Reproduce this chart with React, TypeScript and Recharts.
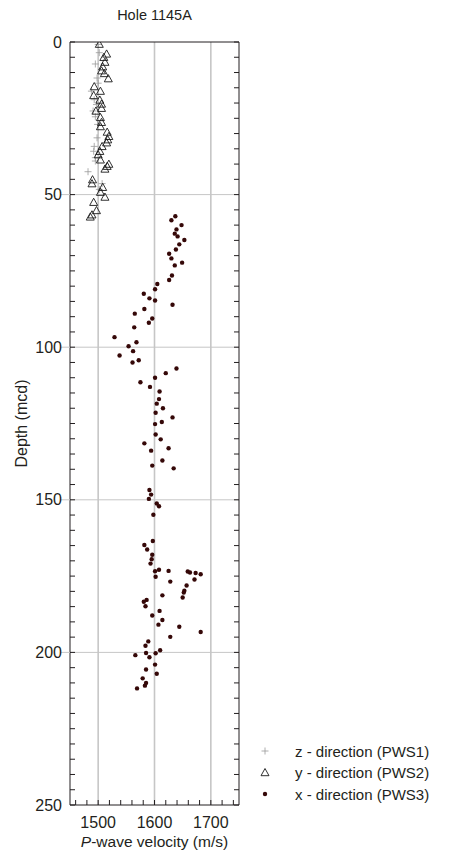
import { Legend, ReferenceLine, Scatter, ScatterChart, XAxis, YAxis } from 'recharts';

// z - direction (PWS1)
const pws1Depth = [0.8, 3.5, 7.2, 11.8, 13.5, 16.1, 18.9, 20.5, 22.6, 24.5, 27.0, 31.4, 34.2, 35.8, 37.9, 39.0, 42.5, 46.4, 48.3];
const pws1Velocity = [1500, 1502, 1495, 1498, 1500, 1488, 1493, 1497, 1491, 1495, 1499, 1498, 1493, 1492, 1495, 1495, 1482, 1507, 1502];

// y - direction (PWS2)
const pws2Depth = [
    0.7, 3.9, 5.0, 6.6, 8.1, 9.4, 10.3, 12.0, 14.6, 16.1, 17.5, 19.0, 20.3, 21.7, 22.6, 24.7, 26.3, 27.7, 29.5, 30.9,
    32.0, 33.0, 34.2, 35.8, 36.9, 38.6, 40.0, 40.7, 41.6, 45.1, 46.4, 47.6, 49.2, 50.8, 52.5, 55.2, 56.6, 57.3,
];
const pws2Velocity = [
    1502, 1515, 1510, 1512, 1508, 1506, 1511, 1518, 1493, 1504, 1492, 1503, 1506, 1506, 1496, 1504, 1506, 1504, 1516, 1519,
    1517, 1515, 1507, 1503, 1500, 1504, 1519, 1516, 1512, 1490, 1489, 1508, 1504, 1512, 1492, 1497, 1489, 1486,
];

// x - direction (PWS3)
const pws3Depth = [
    57.1, 58.4, 60.0, 61.4, 62.8, 63.7, 64.9, 66.3, 68.0, 69.4, 70.9, 72.3, 73.2, 76.5, 78.0, 79.3, 81.0, 82.5, 84.0, 84.7,
    86.1, 87.5, 89.0, 90.6, 92.0, 93.5, 96.7, 98.4, 99.7, 101.3, 102.7, 104.3, 105.0, 107.0, 108.5, 110.0, 111.5, 113.0,
    114.5, 117.0, 118.5, 120.0, 121.5, 123.0, 124.5, 125.2, 128.6, 130.2, 131.5, 133.1, 133.9, 137.1, 138.8, 139.7, 146.8,
    148.3, 149.7, 151.2, 152.1, 154.9, 163.5, 164.8, 166.3, 168.0, 169.5, 170.9, 172.9, 173.3, 173.4, 173.5, 173.8, 174.0,
    174.4, 175.2, 176.1, 176.8, 178.1, 179.8, 180.4, 181.3, 182.0, 182.8, 183.4, 184.9, 186.4, 187.9, 189.4, 190.9, 191.6,
    193.3, 194.9, 196.4, 197.8, 199.3, 200.2, 200.3, 200.9, 201.6, 204.0, 205.6, 207.0, 208.5, 210.0, 210.9, 211.8,
];
const pws3Velocity = [
    1637, 1630, 1648, 1639, 1636, 1641, 1653, 1644, 1638, 1626, 1630, 1649, 1636, 1631, 1626, 1605, 1601, 1581, 1591, 1601,
    1632, 1582, 1565, 1596, 1590, 1564, 1529, 1568, 1554, 1562, 1538, 1572, 1561, 1639, 1620, 1601, 1575, 1592,
    1609, 1608, 1604, 1615, 1602, 1632, 1613, 1601, 1602, 1611, 1582, 1625, 1594, 1614, 1596, 1634, 1591,
    1594, 1590, 1604, 1608, 1598, 1597, 1582, 1587, 1596, 1595, 1593, 1608, 1625, 1601, 1659, 1663, 1673,
    1682, 1602, 1671, 1628, 1657, 1653, 1652, 1614, 1650, 1586, 1581, 1584, 1609, 1596, 1614, 1607, 1644,
    1682, 1628, 1589, 1584, 1610, 1585, 1602, 1566, 1591, 1601, 1585, 1604, 1579, 1585, 1583, 1569,
];

const velocityTicks = [1460, 1480, 1500, 1520, 1540, 1560, 1580, 1600, 1620, 1640, 1660, 1680, 1700, 1720, 1740];
const velocityLabels = [1500, 1600, 1700];
const depthTicks = [
    0, 5, 10, 15, 20, 25, 30, 35, 40, 45, 50, 55, 60, 65, 70, 75, 80, 85, 90, 95, 100, 105, 110, 115, 120, 125, 130, 135,
    140, 145, 150, 155, 160, 165, 170, 175, 180, 185, 190, 195, 200, 205, 210, 215, 220, 225, 230, 235, 240, 245, 250,
];
const depthLabels = [0, 50, 100, 150, 200, 250];
const depthGrid = [50, 100, 150, 200];

const legendItems = ['z - direction (PWS1)', 'y - direction (PWS2)', 'x - direction (PWS3)'];

const toPoints = (depth: number[], velocity: number[]) => depth.map((d, i) => ({ velocity: velocity[i], depth: d }));

const FONT = '"Liberation Sans", Arial, Helvetica, sans-serif';
const INK = '#231f20';
const GRID = '#c6c6c6';

const PlusShape = ({ cx, cy }: any) => (
    <g>
        <line x1={cx - 3.5} x2={cx + 3.5} y1={cy} y2={cy} stroke="#999" strokeWidth={0.8} />
        <line x1={cx} x2={cx} y1={cy - 3.5} y2={cy + 3.5} stroke="#999" strokeWidth={0.8} />
    </g>
);

const TriangleShape = ({ cx, cy }: any) => (
    <path
        d={`M${cx},${cy - 4}L${cx + 4},${cy + 3.2}L${cx - 4},${cy + 3.2}Z`}
        fill="none"
        stroke="#1a1a1a"
        strokeWidth={0.9}
    />
);

const DotShape = ({ cx, cy }: any) => <circle cx={cx} cy={cy} r={2.2} fill="#350808" />;

const BottomTick = ({ x, y, payload }: any) => (
    <g>
        <line x1={x} x2={x} y1={y} y2={y - 5} stroke={INK} />
        {velocityLabels.includes(payload.value) && (
            <text x={x} y={y + 23} textAnchor="middle" fontSize={16} fontFamily={FONT} fill={INK}>
                {payload.value}
            </text>
        )}
    </g>
);

const TopTick = ({ x, y }: any) => <line x1={x} x2={x} y1={y} y2={y + 5} stroke={INK} />;

const LeftTick = ({ x, y, payload }: any) => (
    <g>
        <line x1={x} x2={x + 5} y1={y} y2={y} stroke={INK} />
        {depthGrid.includes(payload.value) && <line x1={x - 9} x2={x} y1={y} y2={y} stroke={GRID} />}
        {depthLabels.includes(payload.value) && (
            <text x={x - 8} y={y + 5.5} textAnchor="end" fontSize={16} fontFamily={FONT} fill={INK}>
                {payload.value}
            </text>
        )}
    </g>
);

const RightTick = ({ x, y }: any) => <line x1={x} x2={x - 5} y1={y} y2={y} stroke={INK} />;

const VelocityLabel = ({ viewBox }: any) => (
    <text
        x={viewBox.x + viewBox.width / 2}
        y={viewBox.y + 42}
        textAnchor="middle"
        fontSize={15.5}
        fontFamily={FONT}
        fill={INK}
    >
        <tspan fontStyle="italic">P</tspan>-wave velocity (m/s)
    </text>
);

const DepthLabel = ({ viewBox }: any) => {
    const cx = 27;
    const cy = viewBox.y + viewBox.height / 2;
    return (
        <text
            x={cx}
            y={cy}
            transform={`rotate(-90, ${cx}, ${cy})`}
            textAnchor="middle"
            fontSize={16}
            fontFamily={FONT}
            fill={INK}
        >
            Depth (mcd)
        </text>
    );
};

const TitleLabel = ({ viewBox }: any) => (
    <text
        x={viewBox.x + viewBox.width / 2}
        y={viewBox.y + viewBox.height - 22}
        textAnchor="middle"
        fontSize={14.5}
        fontFamily={FONT}
        fill={INK}
    >
        Hole 1145A
    </text>
);

const renderLegend = () => (
    <svg width={200} height={70}>
        <PlusShape cx={15} cy={11} />
        <TriangleShape cx={15} cy={32.5} />
        <DotShape cx={15} cy={54} />
        {legendItems.map((item, i) => (
            <text key={item} x={45} y={16.5 + i * 21.5} fontSize={15} fontFamily={FONT} fill={INK}>
                {item}
            </text>
        ))}
    </svg>
);

const App = () => {
    const pws1 = toPoints(pws1Depth, pws1Velocity);
    const pws2 = toPoints(pws2Depth, pws2Velocity);
    const pws3 = toPoints(pws3Depth, pws3Velocity);

    return (
        <div style={{ position: 'absolute', left: 0, top: 0, width: 456, height: 857, background: '#fff' }}>
            <ScatterChart width={456} height={857} margin={{ top: 12, right: 187, bottom: 22, left: 40 }}>
                <XAxis
                    xAxisId="b"
                    type="number"
                    dataKey="velocity"
                    domain={[1450, 1750]}
                    ticks={velocityTicks}
                    interval={0}
                    height={30}
                    tickSize={0}
                    tickMargin={0}
                    tickLine={false}
                    tick={<BottomTick />}
                    axisLine={{ stroke: INK }}
                    allowDataOverflow
                    label={{ content: <VelocityLabel /> }}
                />
                <XAxis
                    xAxisId="t"
                    orientation="top"
                    type="number"
                    domain={[1450, 1750]}
                    ticks={velocityTicks}
                    interval={0}
                    height={30}
                    tickSize={0}
                    tickMargin={0}
                    tickLine={false}
                    tick={<TopTick />}
                    axisLine={{ stroke: INK }}
                    allowDataOverflow
                    label={{ content: <TitleLabel /> }}
                />
                <YAxis
                    yAxisId="l"
                    type="number"
                    dataKey="depth"
                    reversed
                    domain={[0, 250]}
                    ticks={depthTicks}
                    interval={0}
                    width={30}
                    tickSize={0}
                    tickMargin={0}
                    tickLine={false}
                    tick={<LeftTick />}
                    axisLine={{ stroke: INK }}
                    allowDataOverflow
                    label={{ content: <DepthLabel /> }}
                />
                <YAxis
                    yAxisId="r"
                    orientation="right"
                    type="number"
                    reversed
                    domain={[0, 250]}
                    ticks={depthTicks}
                    interval={0}
                    width={30}
                    tickSize={0}
                    tickMargin={0}
                    tickLine={false}
                    tick={<RightTick />}
                    axisLine={{ stroke: INK }}
                    allowDataOverflow
                />
                {velocityLabels.map((v) => (
                    <ReferenceLine key={`vx-${v}`} xAxisId="b" yAxisId="l" x={v} stroke={GRID} strokeWidth={1.6} />
                ))}
                {depthGrid.map((d) => (
                    <ReferenceLine key={`hy-${d}`} xAxisId="b" yAxisId="l" y={d} stroke={GRID} strokeWidth={1} />
                ))}
                <Scatter
                    name="PWS1"
                    xAxisId="b"
                    yAxisId="l"
                    data={pws1}
                    shape={<PlusShape />}
                    isAnimationActive={false}
                />
                <Scatter
                    name="PWS2"
                    xAxisId="b"
                    yAxisId="l"
                    data={pws2}
                    shape={<TriangleShape />}
                    isAnimationActive={false}
                />
                <Scatter
                    name="PWS3"
                    xAxisId="b"
                    yAxisId="l"
                    data={pws3}
                    shape={<DotShape />}
                    isAnimationActive={false}
                />
                <Legend
                    layout="vertical"
                    align="center"
                    verticalAlign="middle"
                    content={renderLegend}
                    wrapperStyle={{ left: 250, top: 740, width: 200, height: 70 }}
                />
            </ScatterChart>
        </div>
    );
};

export default App;
